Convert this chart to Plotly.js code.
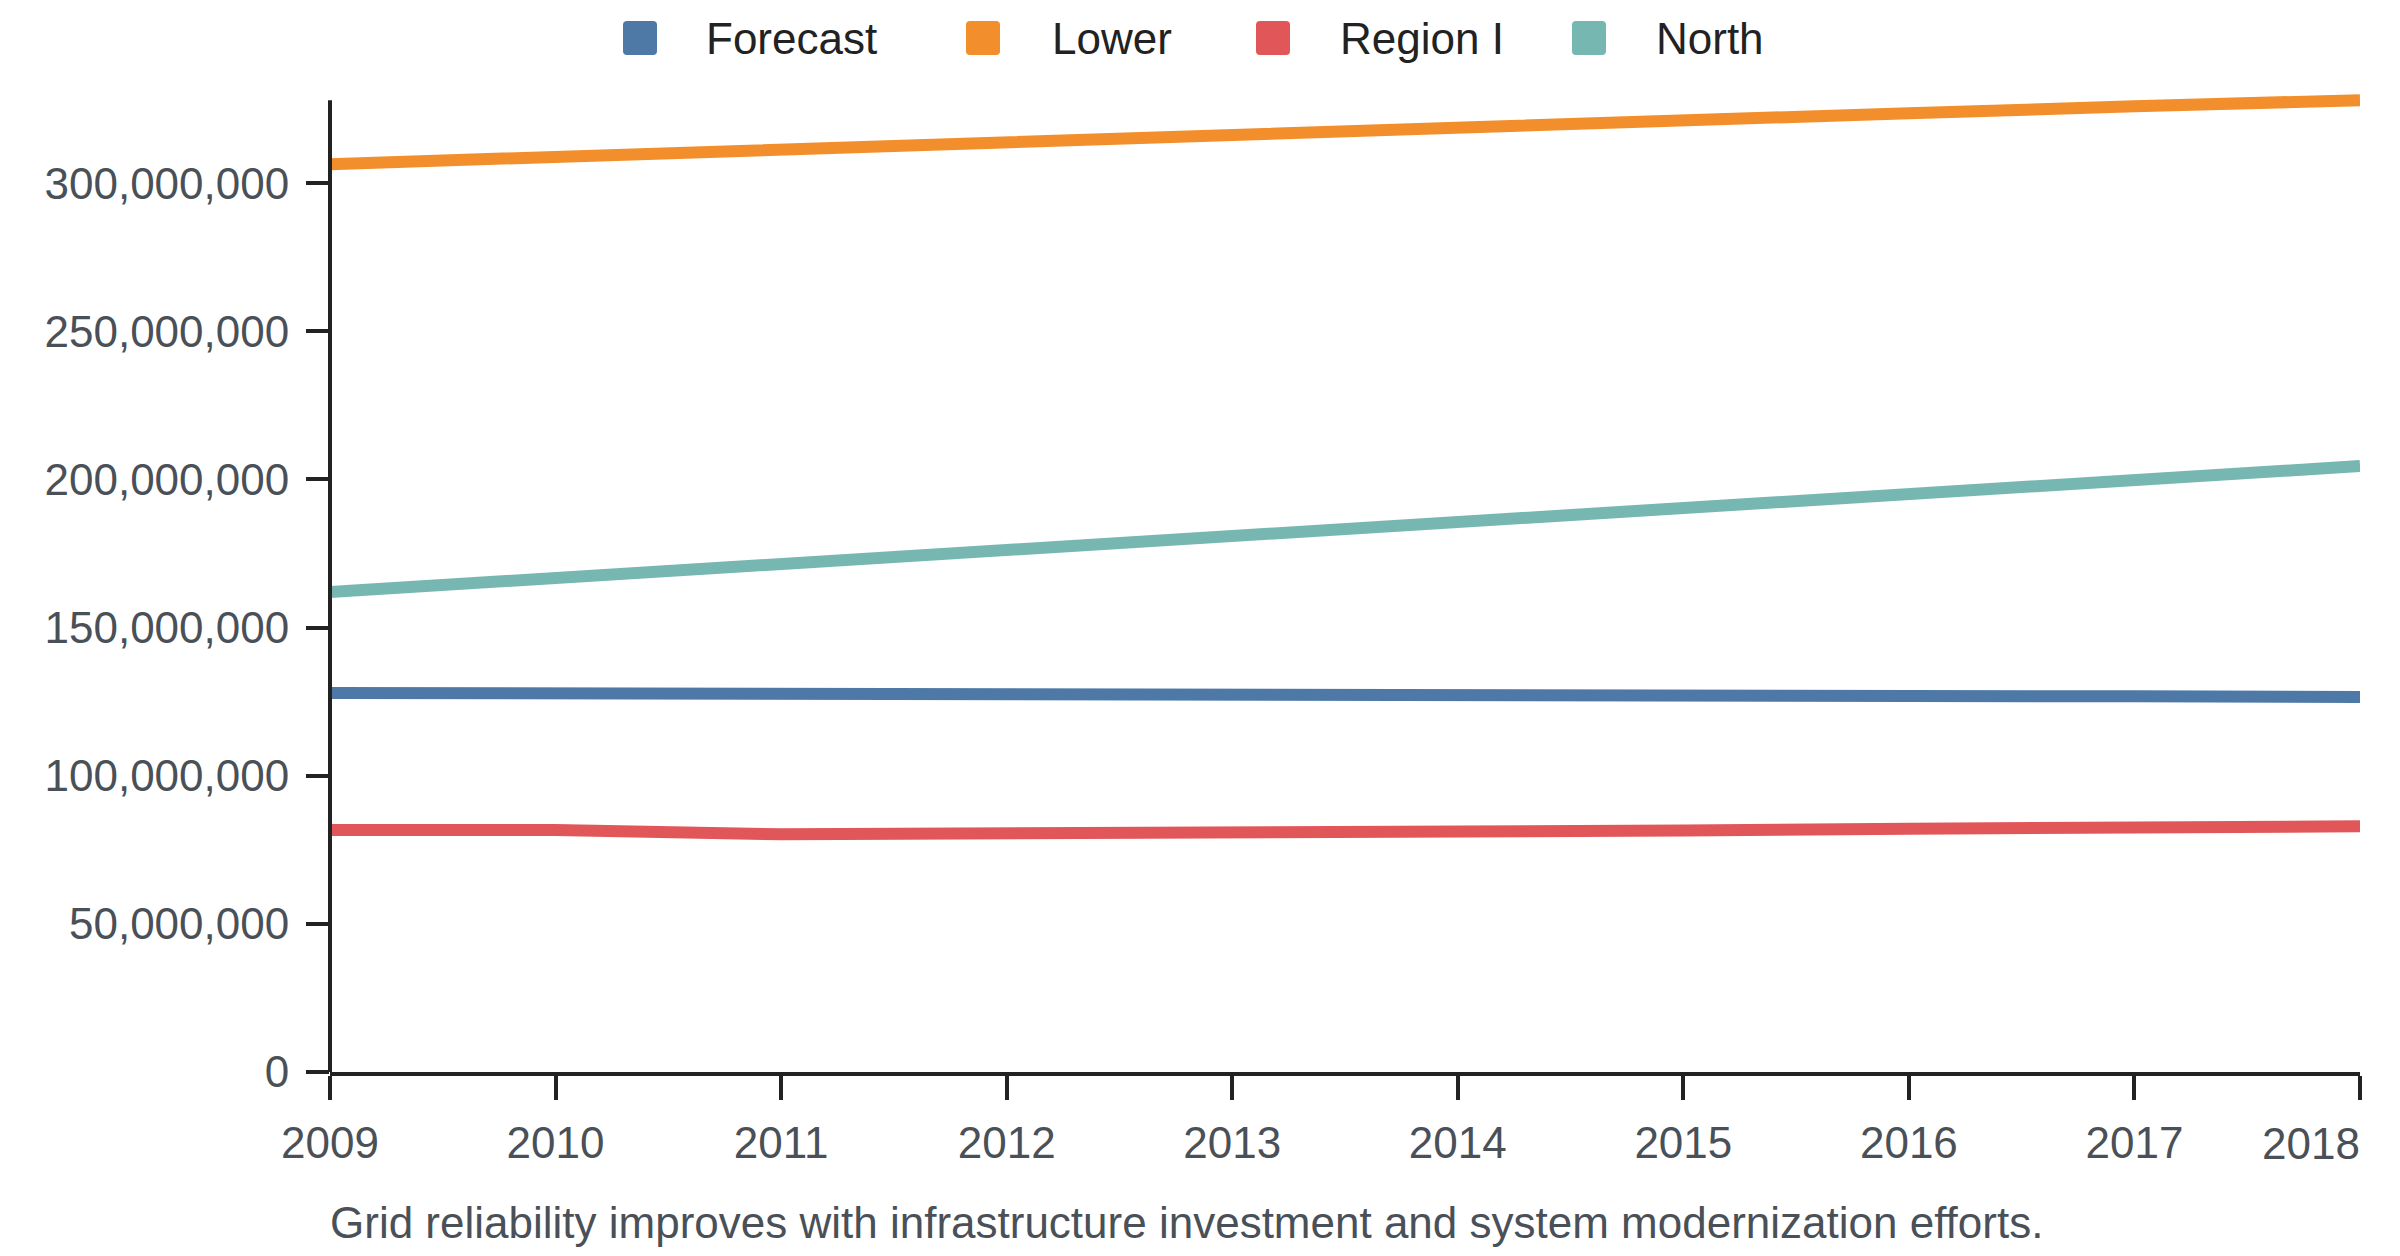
<!DOCTYPE html>
<html>
<head>
<meta charset="utf-8">
<script src="https://cdn.plot.ly/plotly-3.0.1.min.js"></script>
<style>
  html, body { margin: 0; padding: 0; background: #ffffff; }
  #chart { width: 2400px; height: 1256px; }
</style>
</head>
<body>
<div id="chart"></div>
<script>
// ---- Data ----
const years = [2009, 2010, 2011, 2012, 2013, 2014, 2015, 2016, 2017, 2018];
const seriesNames = ["Forecast", "Lower", "Region I", "North"];
const forecast = [127900000, 127900000, 127700000, 127500000, 127300000, 127200000, 127000000, 126900000, 126800000, 126600000];
const lower    = [306400000, 309000000, 311200000, 313700000, 316200000, 318700000, 321200000, 323600000, 325900000, 328000000];
const regionI  = [81700000, 81700000, 80200000, 80300000, 80500000, 80800000, 81500000, 82100000, 82500000, 82900000];
const north    = [162000000, 166700000, 171200000, 175800000, 180500000, 185200000, 190000000, 194800000, 199600000, 204500000];
const yTicks = [0, 50000000, 100000000, 150000000, 200000000, 250000000, 300000000];
const yAxisMax = 328000000;
const caption = "Grid reliability improves with infrastructure investment and system modernization efforts.";

// ---- Styles ----
const colors = ["#4e79a7", "#f28e2b", "#e15759", "#76b7b2"];
const values = [forecast, lower, regionI, north];
const FONT = "Liberation Sans, Arial, Helvetica, sans-serif";
const W = 2400, H = 1256, L = 330, R = 2360, T = 93, B = 1072;
const pxPerUnit = 2.963e-6;
const rangeTop = (B - T) / pxPerUnit;
const px = x => (x - L) / (R - L);
const py = y => (B - y) / (B - T);

const fmt = v => v.toLocaleString("en-US");

const traces = seriesNames.map((name, i) => ({
  type: "scatter",
  mode: "lines",
  name: name,
  x: years,
  y: values[i],
  line: { color: colors[i], width: 12 },
  showlegend: false,
  hoverinfo: "skip"
}));

// legend drawn manually (large rounded squares)
const legendSquareX = [623, 966, 1256, 1572];
const legendTextX = [704, 1050, 1338, 1654];
const sq = 34, rad = 4, sqTop = 21;
const shapes = [];
const annotations = [];
seriesNames.forEach((name, i) => {
  const x0 = legendSquareX[i], x1 = x0 + sq, y0 = sqTop, y1 = sqTop + sq;
  const p = (x, y) => px(x) + "," + py(y);
  const path = "M" + p(x0 + rad, y0) + " L" + p(x1 - rad, y0) +
    " Q" + p(x1, y0) + " " + p(x1, y0 + rad) +
    " L" + p(x1, y1 - rad) + " Q" + p(x1, y1) + " " + p(x1 - rad, y1) +
    " L" + p(x0 + rad, y1) + " Q" + p(x0, y1) + " " + p(x0, y1 - rad) +
    " L" + p(x0, y0 + rad) + " Q" + p(x0, y0) + " " + p(x0 + rad, y0) + " Z";
  shapes.push({ type: "path", xref: "paper", yref: "paper", path: path,
    fillcolor: colors[i], line: { width: 0 }, layer: "above" });
  annotations.push({ xref: "paper", yref: "paper", x: px(legendTextX[i]), y: py(38),
    xanchor: "left", yanchor: "middle", showarrow: false, text: name,
    font: { family: FONT, size: 44, color: "#222222" } });
});

// y axis line (ends at the top of the data extent)
shapes.push({ type: "line", xref: "paper", yref: "y", x0: 0, x1: 0, y0: 0, y1: yAxisMax,
  line: { color: "#222222", width: 4 }, layer: "above" });

// caption
annotations.push({ xref: "paper", yref: "paper", x: px(328), y: py(1222),
  xanchor: "left", yanchor: "middle", showarrow: false, text: caption,
  font: { family: FONT, size: 44, color: "#4a5058" } });

// last x tick label kept inside the canvas
const xTickText = years.map((y, i) => i === years.length - 1 ? "" : String(y));
annotations.push({ xref: "x", yref: "paper", x: years[years.length - 1], y: py(1143),
  xanchor: "right", yanchor: "middle", xshift: 2, showarrow: false,
  text: String(years[years.length - 1]),
  font: { family: FONT, size: 44, color: "#4a5058" } });

const layout = {
  width: W, height: H,
  margin: { l: L, r: W - R, t: T, b: H - B, pad: 0 },
  paper_bgcolor: "#ffffff", plot_bgcolor: "#ffffff",
  showlegend: false,
  font: { family: FONT, size: 44, color: "#4a5058" },
  xaxis: {
    type: "linear", range: [years[0], years[years.length - 1]],
    tickvals: years, ticktext: xTickText,
    showgrid: false, zeroline: false,
    showline: true, linecolor: "#222222", linewidth: 4,
    ticks: "outside", ticklen: 24, tickwidth: 4, tickcolor: "#222222",
    ticklabelstandoff: 5,
    tickfont: { family: FONT, size: 44, color: "#4a5058" }
  },
  yaxis: {
    range: [0, rangeTop],
    tickvals: yTicks, ticktext: yTicks.map(fmt),
    showgrid: false, zeroline: false,
    showline: false,
    ticks: "outside", ticklen: 23, tickwidth: 4, tickcolor: "#222222",
    ticklabelstandoff: 8,
    tickfont: { family: FONT, size: 44, color: "#4a5058" }
  },
  shapes: shapes,
  annotations: annotations
};

Plotly.newPlot("chart", traces, layout, { staticPlot: true, displayModeBar: false });
</script>
</body>
</html>
